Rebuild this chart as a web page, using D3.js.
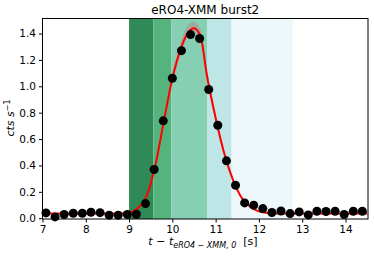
<!DOCTYPE html>
<html><head><meta charset="utf-8">
<script src="https://cdn.jsdelivr.net/npm/d3@7"></script>
<style>body{margin:0;background:#fff}svg{display:block}text{font-family:"DejaVu Sans",sans-serif;white-space:pre}</style>
</head><body>
<svg id="c" width="374" height="257"></svg>
<script>
// data points (time, rate)
const ptX = [7.08,7.29,7.50,7.71,7.92,8.12,8.33,8.54,8.75,8.96,9.17,9.38,9.58,9.79,10.00,10.21,10.42,10.63,10.84,11.05,11.25,11.46,11.67,11.88,12.09,12.30,12.51,12.72,12.93,13.14,13.34,13.55,13.76,13.97,14.18,14.39];
const ptY = [0.040,0.010,0.028,0.038,0.038,0.045,0.042,0.023,0.023,0.028,0.030,0.111,0.369,0.738,1.061,1.270,1.392,1.362,0.976,0.705,0.435,0.250,0.116,0.099,0.073,0.043,0.055,0.035,0.048,0.025,0.053,0.051,0.053,0.028,0.053,0.053];
const ptErr = [0.01,0.01,0.01,0.01,0.01,0.01,0.01,0.01,0.01,0.01,0.01,0.015,0.02,0.025,0.03,0.03,0.035,0.035,0.03,0.025,0.02,0.015,0.012,0.012,0.01,0.01,0.01,0.01,0.01,0.01,0.01,0.01,0.01,0.01,0.01,0.01];
// model curve samples
const fitX  = [7.0,8.0,8.8,9.0,9.2,9.4,9.6,9.8,10.0,10.2,10.35,10.5,10.65,10.8,11.0,11.2,11.4,11.6,11.8,12.0,12.2,12.5,13.0,14.5];
const fitY  = [0.035,0.035,0.036,0.042,0.075,0.165,0.39,0.73,1.06,1.29,1.40,1.44,1.38,1.08,0.76,0.49,0.29,0.155,0.085,0.052,0.040,0.035,0.035,0.035];
const fitLo = [0.032,0.032,0.033,0.038,0.070,0.155,0.37,0.70,1.02,1.25,1.37,1.40,1.34,1.05,0.73,0.47,0.28,0.148,0.080,0.049,0.037,0.032,0.032,0.032];
const fitHi = [0.038,0.038,0.040,0.046,0.080,0.175,0.41,0.76,1.10,1.34,1.46,1.49,1.43,1.12,0.79,0.51,0.30,0.162,0.090,0.055,0.043,0.038,0.038,0.038];
// shaded intervals
const bandStart = [9.0,9.56,9.98,10.80,11.37];
const bandEnd   = [9.56,9.98,10.80,11.37,12.78];
const bandColor = ["#2f8a58","#55b47e","#86cfb3","#bfe6e6","#eef8fb"];
const xTicks = [7,8,9,10,11,12,13,14];
const yTicks = [0.0,0.2,0.4,0.6,0.8,1.0,1.2,1.4];

const svg = d3.select("#c");
const L=42.5, R=368, T=18.5, B=219;
const x = d3.scaleLinear().domain([7,14.52]).range([L,R]);
const y = d3.scaleLinear().domain([-0.006,1.514]).range([B,T]);

const g = svg.append("g");
g.selectAll("rect.band").data(bandStart).join("rect")
 .attr("x",(d,i)=>x(d)).attr("width",(d,i)=>x(bandEnd[i])-x(d))
 .attr("y",T).attr("height",B-T).attr("fill",(d,i)=>bandColor[i]);

const fit = fitX.map((d,i)=>({x:d,y:fitY[i],lo:fitLo[i],hi:fitHi[i]}));
g.append("path").datum(fit)
 .attr("d",d3.area().x(d=>x(d.x)).y0(d=>y(d.lo)).y1(d=>y(d.hi)).curve(d3.curveMonotoneX))
 .attr("fill","#b08a8a").attr("opacity",0.55);
g.append("path").datum(fit)
 .attr("d",d3.line().x(d=>x(d.x)).y(d=>y(d.y)).curve(d3.curveMonotoneX))
 .attr("fill","none").attr("stroke","#ff0000").attr("stroke-width",2);

const pts = ptX.map((d,i)=>({x:d,y:ptY[i],e:ptErr[i]}));
g.selectAll("line.err").data(pts).join("line")
 .attr("x1",d=>x(d.x)).attr("x2",d=>x(d.x)).attr("y1",d=>y(d.y-d.e)).attr("y2",d=>y(d.y+d.e))
 .attr("stroke","#888").attr("stroke-width",1);
g.selectAll("circle").data(pts).join("circle")
 .attr("cx",d=>x(d.x)).attr("cy",d=>y(d.y)).attr("r",4.5).attr("fill","#000");

// frame
svg.append("rect").attr("x",L).attr("y",T).attr("width",R-L).attr("height",B-T)
 .attr("fill","none").attr("stroke","#000").attr("stroke-width",1);

const xa = svg.append("g").attr("transform",`translate(0,${B})`)
 .call(d3.axisBottom(x).tickValues(xTicks).tickFormat(d3.format("d")).tickSize(3.5).tickPadding(3));
const ya = svg.append("g").attr("transform",`translate(${L},0)`)
 .call(d3.axisLeft(y).tickValues(yTicks).tickFormat(d3.format(".1f")).tickSize(3.5).tickPadding(3));
[xa,ya].forEach(a=>{a.select(".domain").remove();a.selectAll("text").attr("font-size",10.5).attr("fill","#000").style("font-family","DejaVu Sans");a.selectAll("line").attr("stroke","#000");});

svg.append("text").attr("x",(L+R)/2).attr("y",13.5).attr("text-anchor","middle")
 .attr("font-size",12).text("eRO4-XMM burst2");

const yl = svg.append("text").attr("transform","translate(14,118) rotate(-90)").attr("text-anchor","middle").attr("font-size",11);
yl.append("tspan").attr("font-style","italic").text("cts s");
yl.append("tspan").attr("font-size",8).attr("dy",-4).text("−1");

const xl = svg.append("text").attr("x",203).attr("y",245).attr("text-anchor","middle").attr("font-size",11);
xl.append("tspan").attr("font-style","italic").text("t − t");
xl.append("tspan").attr("font-style","italic").attr("font-size",8).attr("dy",2.5).text("eRO4 − XMM, 0");
xl.append("tspan").attr("dy",-2.5).text("\u00a0\u00a0[s]");
</script>
</body></html>
